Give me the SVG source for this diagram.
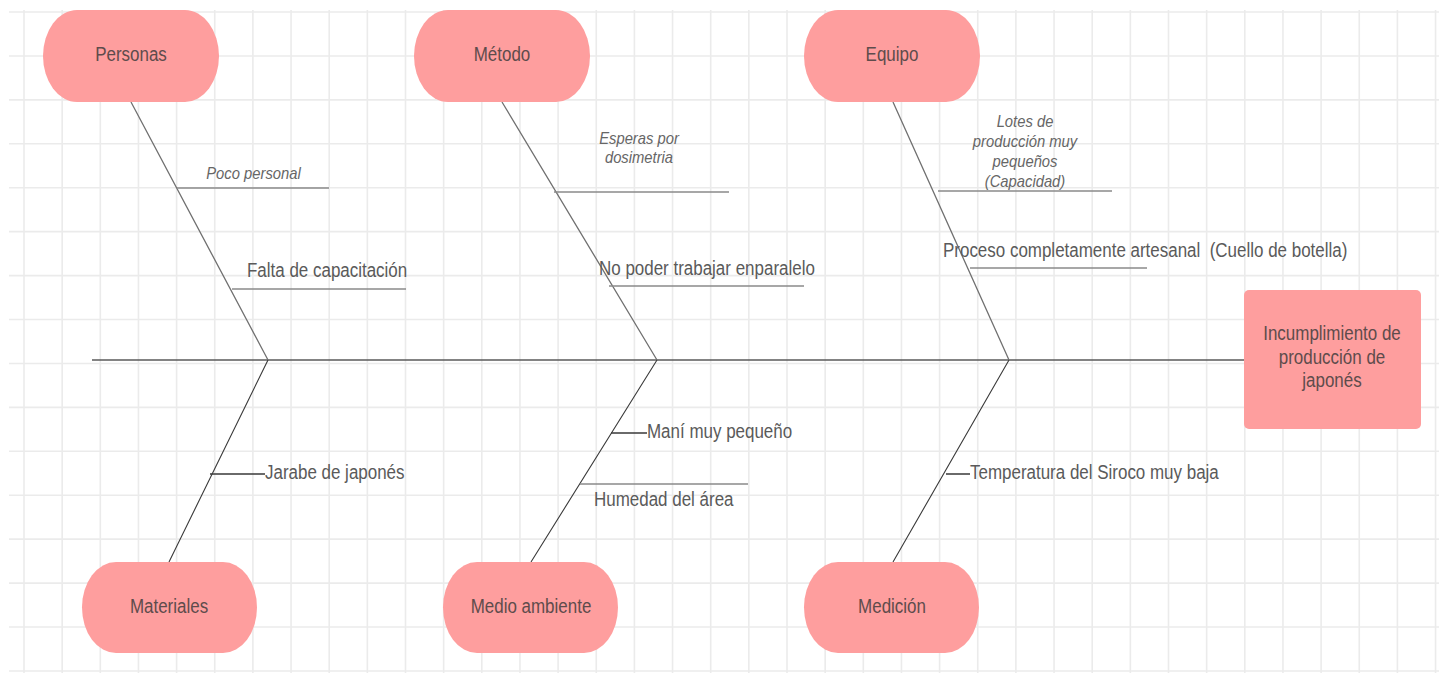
<svg xmlns="http://www.w3.org/2000/svg" width="1439" height="673" viewBox="0 0 1439 673">
  <style>
    .grid { stroke: #ebebeb; stroke-width: 1.6; fill: none; }
    .spine { stroke: #5a5a5a; stroke-width: 1.4; fill: none; }
    .bone-top { stroke: #707070; stroke-width: 1.3; fill: none; }
    .bone-bot { stroke: #3a3a3a; stroke-width: 1.1; fill: none; }
    .sub { stroke: #8a8a8a; stroke-width: 1.6; fill: none; }
    .tick { stroke: #3a3a3a; stroke-width: 1.5; fill: none; }
    .node { fill: #fe9e9e; }
    .ntext { font-family: "Liberation Sans", Arial, sans-serif; font-size: 19.5px; fill: #5e4c4c; text-anchor: middle; }
    .lbl { font-family: "Liberation Sans", Arial, sans-serif; font-size: 19.5px; fill: #5a5a5a; white-space: pre; }
    .ilbl { font-family: "Liberation Sans", Arial, sans-serif; font-size: 17px; font-style: italic; fill: #666666; text-anchor: middle; }
  </style>

  <rect width="1439" height="673" fill="#ffffff"/>

  <!-- background grid -->
  <g id="grid">
    <path class="grid" d="M24 10V673M62.15 10V673M100.3 10V673M138.45 10V673M176.6 10V673M214.75 10V673M252.9 10V673M291.05 10V673M329.2 10V673M367.35 10V673M405.5 10V673M443.65 10V673M481.8 10V673M519.95 10V673M558.1 10V673M596.25 10V673M634.4 10V673M672.55 10V673M710.7 10V673M748.85 10V673M787 10V673M825.15 10V673M863.3 10V673M901.45 10V673M939.6 10V673M977.75 10V673M1015.9 10V673M1054.05 10V673M1092.2 10V673M1130.35 10V673M1168.5 10V673M1206.65 10V673M1244.8 10V673M1282.95 10V673M1321.1 10V673M1359.25 10V673M1397.4 10V673M1435.55 10V673"/>
    <path class="grid" d="M9 12H1439M9 55.93H1439M9 99.86H1439M9 143.79H1439M9 187.72H1439M9 231.65H1439M9 275.58H1439M9 319.51H1439M9 363.44H1439M9 407.37H1439M9 451.3H1439M9 495.23H1439M9 539.16H1439M9 583.09H1439M9 627.02H1439M9 670.95H1439"/>
  </g>

  <!-- spine, bones and cause branches -->
  <g id="connectors">
    <path class="spine" d="M92 360H1244"/>
    <path class="bone-top" d="M131 102L268 360M502 102L657 360M893 102L1009 360"/>
    <path class="bone-bot" d="M169 562L268 360M531 562L657 360M893 562L1009 360"/>
    <path class="sub" d="M177 188H329M232 289H406M554 192H729M609 286H804M938 191H1112M970 268H1147M580 484H748"/>
    <path class="tick" d="M210 474H265M611 433H647M946 474H970"/>
  </g>

  <!-- category nodes -->
  <g id="personas">
    <rect class="node" x="43" y="10" width="176" height="92" rx="34" ry="46"/>
    <text class="ntext" transform="matrix(0.87 0 0 1 131 61)">Personas</text>
  </g>
  <g id="metodo">
    <rect class="node" x="414" y="10" width="176" height="92" rx="34" ry="46"/>
    <text class="ntext" transform="matrix(0.87 0 0 1 502 61)">Método</text>
  </g>
  <g id="equipo">
    <rect class="node" x="804" y="10" width="176" height="92" rx="34" ry="46"/>
    <text class="ntext" transform="matrix(0.87 0 0 1 892 61)">Equipo</text>
  </g>
  <g id="materiales">
    <rect class="node" x="82" y="562" width="175" height="91" rx="34" ry="45.5"/>
    <text class="ntext" transform="matrix(0.87 0 0 1 169 613)">Materiales</text>
  </g>
  <g id="medio-ambiente">
    <rect class="node" x="443" y="562" width="175" height="91" rx="34" ry="45.5"/>
    <text class="ntext" transform="matrix(0.87 0 0 1 531 613)">Medio ambiente</text>
  </g>
  <g id="medicion">
    <rect class="node" x="804" y="562" width="175" height="91" rx="34" ry="45.5"/>
    <text class="ntext" transform="matrix(0.87 0 0 1 892 613)">Medición</text>
  </g>

  <!-- effect -->
  <g id="efecto">
    <rect class="node" x="1244" y="290" width="177" height="139" rx="5"/>
    <text class="ntext" transform="matrix(0.87 0 0 1 1332 340)">Incumplimiento de</text>
    <text class="ntext" transform="matrix(0.87 0 0 1 1332 363.5)">producción de</text>
    <text class="ntext" transform="matrix(0.87 0 0 1 1332 387)">japonés</text>
  </g>

  <!-- cause labels -->
  <g id="causas">
    <text class="ilbl" transform="matrix(0.87 0 0 1 253.5 179)">Poco personal</text>
    <text class="lbl" transform="matrix(0.87 0 0 1 247 277)">Falta de capacitación</text>
    <text class="ilbl" transform="matrix(0.87 0 0 1 639 144)">Esperas por</text>
    <text class="ilbl" transform="matrix(0.87 0 0 1 639 163)">dosimetria</text>
    <text class="lbl" transform="matrix(0.87 0 0 1 599 275)">No poder trabajar enparalelo</text>
    <text class="ilbl" transform="matrix(0.87 0 0 1 1025 127)">Lotes de</text>
    <text class="ilbl" transform="matrix(0.87 0 0 1 1025 147)">producción muy</text>
    <text class="ilbl" transform="matrix(0.87 0 0 1 1025 167)">pequeños</text>
    <text class="ilbl" transform="matrix(0.87 0 0 1 1025 187)">(Capacidad)</text>
    <text class="lbl" transform="matrix(0.87 0 0 1 943 257)">Proceso completamente artesanal  (Cuello de botella)</text>
    <text class="lbl" transform="matrix(0.87 0 0 1 265 479)">Jarabe de japonés</text>
    <text class="lbl" transform="matrix(0.87 0 0 1 647 438)">Maní muy pequeño</text>
    <text class="lbl" transform="matrix(0.87 0 0 1 594 506)">Humedad del área</text>
    <text class="lbl" transform="matrix(0.87 0 0 1 970 479)">Temperatura del Siroco muy baja</text>
  </g>
</svg>
